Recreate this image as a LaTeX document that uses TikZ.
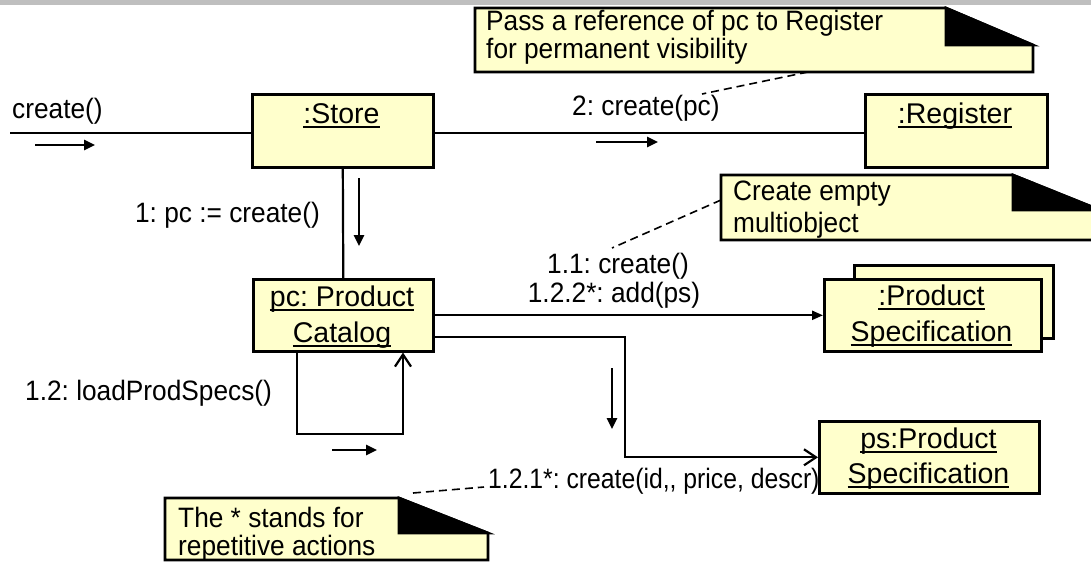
\documentclass[tikz,border=0pt]{standalone}
\usepackage{fontspec}
\setmainfont{Liberation Sans}
\usetikzlibrary{arrows.meta}
\definecolor{objyellow}{HTML}{FFFFCC}
\definecolor{bandgray}{HTML}{BFBFBF}
\frenchspacing
\newcommand\ulin[1]{\setbox0\hbox{#1}\rlap{\rule[-4.5pt]{\wd0}{2pt}}\box0}
\newcommand\tx[1]{\scalebox{1.03}[1.1]{#1}}
\begin{document}
\begin{tikzpicture}[x=1pt,y=-1pt,
  obj/.style={draw, line width=2.6pt, fill=objyellow, inner sep=0pt, anchor=north west},
  objtext/.style={font=\fontsize{28.5}{34}\selectfont, inner sep=0pt, anchor=base},
  lbl/.style={font=\fontsize{25.5}{28}\selectfont, inner sep=0pt},
  conn/.style={line width=2.2pt},
  dirarrow/.style={line width=2.5pt, -{Triangle[length=11pt,width=10pt]}},
  openhead/.style={-{Straight Barb[length=12pt,width=16pt]}},
  notebox/.style={draw, line width=2.6pt, fill=objyellow, line join=miter},
  fold/.style={fill=black, draw, line width=2.6pt, line join=miter},
  notelink/.style={line width=1.6pt, dash pattern=on 8pt off 5pt}]
\useasboundingbox (0,0) rectangle (1091,563);
\clip (0,0) rectangle (1091,563);
\fill[bandgray] (0,0) rectangle (1091,5);

% object boxes
\node[obj, minimum width=181pt, minimum height=73pt] (store) at (251,93) {};
\node[obj, minimum width=182pt, minimum height=73pt] (register) at (864,93) {};
\node[obj, minimum width=180pt, minimum height=72pt] (cat) at (252,278) {};
\node[obj, minimum width=199pt, minimum height=73pt] (multiback) at (853,264) {};
\node[obj, minimum width=217pt, minimum height=72pt] (multi) at (823,278) {};
\node[obj, minimum width=220pt, minimum height=72pt] (ps) at (818,420) {};

\node[objtext] (storet) at (341.5,123) {\ulin{:Store}};
\node[objtext] (registert) at (955,123) {\ulin{:Register}};
\node[objtext] (catt1) at (342,306) {\ulin{pc: Product}};
\node[objtext] (catt2) at (342,342) {\ulin{Catalog}};
\node[objtext] (multit1) at (931.5,305) {\ulin{:Product}};
\node[objtext] (multit2) at (931.5,341) {\ulin{Specification}};
\node[objtext] (pst1) at (928.5,448) {\ulin{ps:Product}};
\node[objtext] (pst2) at (928.5,483) {\ulin{Specification}};

% connectors
\coordinate (cin) at (10,133);
\draw[conn] (cin) -- (cin -| store.west);
\draw[conn] (store.east |- cin) -- (register.west |- cin);
\draw[conn] (store.south) -- (cat.north);
\draw[conn, -{Triangle[length=11pt,width=9pt]}] (cat.east) -- (multi.west);
\coordinate (pbend) at (625,337);
\draw[conn, openhead] (cat.east |- pbend) -- (pbend) |- (ps.west);
\coordinate (loopa) at (297,434);
\coordinate (loopb) at (403,434);
\draw[conn, openhead] (cat.south -| loopa) -- (loopa) -- (loopb) -- (cat.south -| loopb);

% direction arrows
\draw[dirarrow] (35,145) -- (95,145);
\draw[dirarrow] (596,142) -- (658,142);
\draw[dirarrow] (359,178) -- (359,246);
\draw[dirarrow] (612,368) -- (612,429);
\draw[dirarrow] (332,450) -- (377,450);

% labels
\node[lbl, anchor=base west] (lcreate) at (12,118) {\tx{create()}};
\node[lbl, anchor=base west] (l2) at (572,115) {\tx{2: create(pc)}};
\node[lbl, anchor=base east] (l1) at (320,222) {\tx{1: pc := create()}};
\node[lbl, anchor=base] (l11) at (618,273) {\tx{1.1: create()}};
\node[lbl, anchor=base] (l122) at (614,302) {\tx{1.2.2*: add(ps)}};
\node[lbl, anchor=base west] (l12) at (25,400) {\tx{1.2: loadProdSpecs()}};
\node[lbl, anchor=base west] (l121) at (488,488) {\scalebox{0.97}[1.1]{1.2.1*: create(id,{}, price, descr)}};

% notes
\draw[notebox] (475,8) -- (946,8) -- (1033,45) -- (1033,72) -- (475,72) -- cycle;
\draw[fold] (946,8) -- (1033,45) -- (946,45) -- cycle;
\node[lbl, anchor=base west] (n1t1) at (486,30) {\tx{Pass a reference of pc to Register}};
\node[lbl, anchor=base west] (n1t2) at (486,58) {\tx{for permanent visibility}};

\draw[notebox] (721,175) -- (1013,175) -- (1100,210) -- (1100,240) -- (721,240) -- cycle;
\draw[fold] (1013,175) -- (1100,210) -- (1013,210) -- cycle;
\node[lbl, anchor=base west] (n2t1) at (733,200) {\tx{Create empty}};
\node[lbl, anchor=base west] (n2t2) at (733,232) {\tx{multiobject}};

\draw[notebox] (165,498) -- (399,498) -- (488,533) -- (488,560) -- (165,560) -- cycle;
\draw[fold] (399,498) -- (488,533) -- (399,533) -- cycle;
\node[lbl, anchor=base west] (n3t1) at (178,527) {\tx{The * stands for}};
\node[lbl, anchor=base west] (n3t2) at (178,555) {\tx{repetitive actions}};

% note links
\coordinate (n1p) at (808,72);
\coordinate (n1q) at (702,94);
\draw[notelink] (n1p) -- (n1q);
\coordinate (n2p) at (721,200);
\coordinate (n2q) at (612,248);
\draw[notelink] (n2p) -- (n2q);
\coordinate (n3p) at (413,493);
\coordinate (n3q) at (484,487);
\draw[notelink] (n3p) -- (n3q);
\end{tikzpicture}
\end{document}
